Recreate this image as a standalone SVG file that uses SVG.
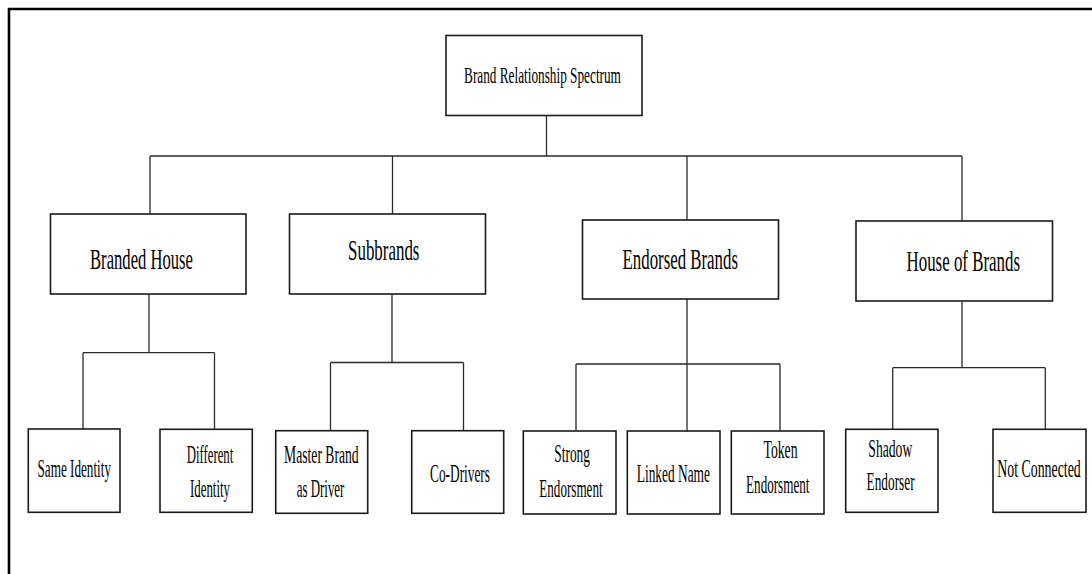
<svg xmlns="http://www.w3.org/2000/svg" width="1092" height="574" viewBox="0 0 1092 574">
<style>
  .box { fill: #ffffff; stroke: #1a1a1a; stroke-width: 1.6; }
  .conn { fill: none; stroke: #2a2a2a; stroke-width: 1.3; }
  .frame { fill: none; stroke: #000000; stroke-width: 2.6; }
  text { font-family: "Liberation Serif", "Times New Roman", "DejaVu Serif", serif; fill: #000000; text-anchor: middle; }
  .t0 { font-size: 24px; }
  .t1 { font-size: 30px; }
  .t2 { font-size: 25px; }
</style>
<rect x="0" y="0" width="1092" height="574" fill="#ffffff"/>
<path class="frame" d="M9 574 V9 H1092"/>
<g id="connectors">
  <path class="conn" d="M546.5 115.5 V156 M150 156 H962 M150 156 V214 M392.5 156 V214 M687 156 V220 M962 156 V221"/>
  <path class="conn" d="M149 294 V352.7 M83 352.7 H214.5 M83 352.7 V429 M214.5 352.7 V429.3"/>
  <path class="conn" d="M392 294 V362.5 M330.5 362.5 H463.5 M330.5 362.5 V430.7 M463.5 362.5 V430.7"/>
  <path class="conn" d="M687 299 V431 M576 364 H780 M576 364 V431 M780 364 V431"/>
  <path class="conn" d="M962 301 V367.7 M892.7 367.7 H1045.3 M892.7 367.7 V429.3 M1045.3 367.7 V429.3"/>
</g>
<g id="root">
  <rect class="box" x="446" y="35.5" width="196" height="80"/>
  <text class="t0" transform="translate(542.5 83) scale(0.553 1)">Brand Relationship Spectrum</text>
</g>
<g id="branded-house">
  <rect class="box" x="50.5" y="214" width="195.5" height="80"/>
  <text class="t1" transform="translate(141.5 268.5) scale(0.554 1)">Branded House</text>
</g>
<g id="subbrands">
  <rect class="box" x="289.5" y="214" width="196" height="80"/>
  <text class="t1" transform="translate(383.75 260) scale(0.564 1)">Subbrands</text>
</g>
<g id="endorsed-brands">
  <rect class="box" x="582.5" y="220" width="196" height="79"/>
  <text class="t1" transform="translate(680.25 268.5) scale(0.561 1)">Endorsed Brands</text>
</g>
<g id="house-of-brands">
  <rect class="box" x="856" y="221" width="196.5" height="80"/>
  <text class="t1" transform="translate(963.25 271) scale(0.563 1)">House of Brands</text>
</g>
<g id="same-identity">
  <rect class="box" x="28.3" y="429" width="91.7" height="83.3"/>
  <text class="t2" transform="translate(74.25 476.5) scale(0.527 1)">Same Identity</text>
</g>
<g id="different-identity">
  <rect class="box" x="160" y="429.3" width="92.3" height="83"/>
  <text class="t2" transform="translate(210.05 463.3) scale(0.51 1)">Different</text>
  <text class="t2" transform="translate(210 496.7) scale(0.514 1)">Identity</text>
</g>
<g id="master-brand">
  <rect class="box" x="275.7" y="430.7" width="92" height="82.6"/>
  <text class="t2" transform="translate(321.35 462.7) scale(0.546 1)">Master Brand</text>
  <text class="t2" transform="translate(320.55 496.7) scale(0.517 1)">as Driver</text>
</g>
<g id="co-drivers">
  <rect class="box" x="411.7" y="430.7" width="92" height="82.6"/>
  <text class="t2" transform="translate(460 481.7) scale(0.533 1)">Co-Drivers</text>
</g>
<g id="strong-endorsment">
  <rect class="box" x="523.3" y="431" width="92.7" height="83"/>
  <text class="t2" transform="translate(572.15 461.7) scale(0.535 1)">Strong</text>
  <text class="t2" transform="translate(570.95 496.7) scale(0.524 1)">Endorsment</text>
</g>
<g id="linked-name">
  <rect class="box" x="627.3" y="431" width="92.7" height="83"/>
  <text class="t2" transform="translate(673.35 481.7) scale(0.536 1)">Linked Name</text>
</g>
<g id="token-endorsment">
  <rect class="box" x="731.3" y="431" width="92.7" height="83"/>
  <text class="t2" transform="translate(780.5 458.3) scale(0.548 1)">Token</text>
  <text class="t2" transform="translate(777.75 493.3) scale(0.5255 1)">Endorsment</text>
</g>
<g id="shadow-endorser">
  <rect class="box" x="845.7" y="429.3" width="92.3" height="83"/>
  <text class="t2" transform="translate(890.3 456.7) scale(0.546 1)">Shadow</text>
  <text class="t2" transform="translate(890.6 490) scale(0.532 1)">Endorser</text>
</g>
<g id="not-connected">
  <rect class="box" x="993" y="429.3" width="93" height="83"/>
  <text class="t2" transform="translate(1039 476.7) scale(0.555 1)">Not Connected</text>
</g>
</svg>
